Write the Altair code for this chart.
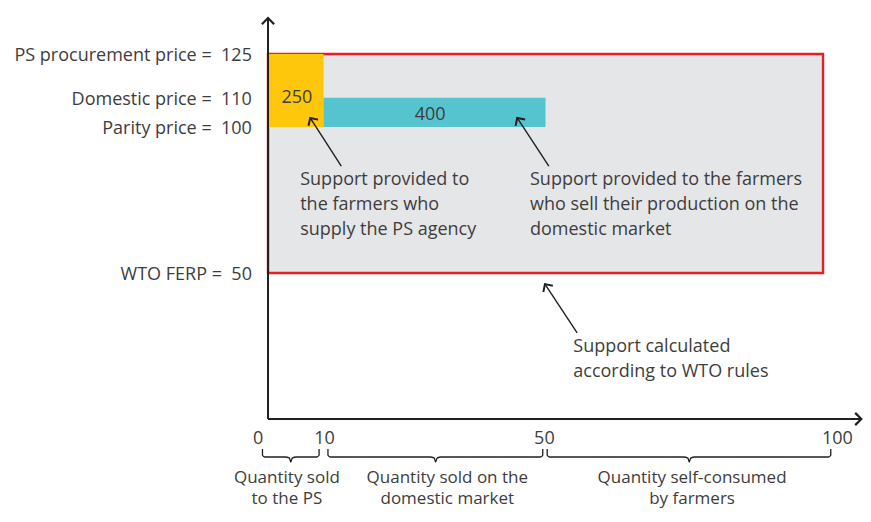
import altair as alt
import pandas as pd
import numpy as np

# ---------------- data ----------------
NB = "\u00a0"
# price levels (left-hand labels)
price_labels = ["PS procurement price =" + NB + NB + "125", "Domestic price =" + NB + NB + "110",
                "Parity price =" + NB + NB + "100", "WTO FERP =" + NB + NB + "50"]
price_values = [125, 110, 100, 50]

# support areas
wto_box = dict(x0=0, x1=100, y0=50, y1=125)
ps_box = dict(x0=0, x1=10, y0=100, y1=125, label="250")
dom_box = dict(x0=10, x1=50, y0=100, y1=110, label="400")

# quantity tick labels
tick_labels = ["0", "10", "50", "100"]
tick_pos = [-1.8, 10.2, 49.8, 102.6]

# braces under the x axis (quantity segments)
brace_start = [-1.0, 10.8, 50.3]
brace_end = [9.2, 49.5, 101.4]
brace_tip = [4.1, 30.2, 75.9]
brace_label_x = [3.4, 32.3, 76.4]
brace_text = [["Quantity sold", "to the PS"],
              ["Quantity sold on the", "domestic market"],
              ["Quantity self-consumed", "by farmers"]]

# annotations (text blocks)
note_text = [["Support provided to", "the farmers who", "supply the PS agency"],
             ["Support provided to the farmers", "who sell their production on the", "domestic market"],
             ["Support calculated", "according to WTO rules"]]
note_x = [5.8, 47.2, 55.0]
note_y = [81.8, 81.8, 24.7]

# annotation arrows (tail -> tip)
arrow_tail_x = [13.2, 50.6, 55.7]
arrow_tail_y = [86.6, 86.6, 29.5]
arrow_tip_x = [7.6, 44.9, 49.9]
arrow_tip_y = [103.1, 103.1, 46.2]

# axes extents
x_axis_end = 106.9
y_axis_end = 137.3

# ---------------- layout ----------------
W, H = 855, 502
PX_X, PX_Y = 5.55, 2.92
XMIN = -46.85
XMAX = XMIN + W / PX_X
YMAX = 140.75
YMIN = YMAX - H / PX_Y

FONT = "Open Sans"
FS = 18
TXT = "#3d3d3d"
LINE = "#231f20"

xs = alt.Scale(domain=[XMIN, XMAX], nice=False, zero=False)
ys = alt.Scale(domain=[YMIN, YMAX], nice=False, zero=False)


def X(f):
    return alt.X(f, type="quantitative", scale=xs, axis=None)


def Y(f):
    return alt.Y(f, type="quantitative", scale=ys, axis=None)


# rectangles
wto = alt.Chart(pd.DataFrame([wto_box])).mark_rect(fill="#e5e6e8", stroke="#ed1c24", strokeWidth=2.4).encode(
    x=X("x0"), x2="x1", y=Y("y0"), y2="y1")
ps = alt.Chart(pd.DataFrame([ps_box])).mark_rect(fill="#ffc70b").encode(
    x=X("x0"), x2="x1", y=Y("y0"), y2="y1")
dom = alt.Chart(pd.DataFrame([dom_box])).mark_rect(fill="#55c4cf").encode(
    x=X("x0"), x2="x1", y=Y("y0"), y2="y1")

box_lab_df = pd.DataFrame([
    dict(x=(ps_box["x0"] + ps_box["x1"]) / 2 + 0.2, y=109.8, t=ps_box["label"]),
    dict(x=(dom_box["x0"] + dom_box["x1"]) / 2 - 0.8, y=104.0, t=dom_box["label"]),
])
box_lab = alt.Chart(box_lab_df).mark_text(font=FONT, fontSize=FS, color=TXT, baseline="middle", align="center").encode(
    x=X("x"), y=Y("y"), text="t:N")

# axes
axes_df = pd.DataFrame([
    dict(x=0, y=0, x2=0, y2=y_axis_end),
    dict(x=0, y=0, x2=x_axis_end, y2=0),
])
axes = alt.Chart(axes_df).mark_rule(color=LINE, strokeWidth=2).encode(
    x=X("x"), y=Y("y"), x2="x2", y2="y2")

CHEVRON = "M-1,1L0,0L1,1"
axhead_df = pd.DataFrame([
    dict(x=0, y=y_axis_end, a=0),
    dict(x=x_axis_end, y=0, a=90),
])
axheads = alt.Chart(axhead_df).mark_point(shape=CHEVRON, filled=False, color=LINE, strokeWidth=2.2,
                                          size=150, opacity=1).encode(
    x=X("x"), y=Y("y"), angle=alt.Angle("a:Q", scale=None))

# annotation arrows
arr_df = pd.DataFrame(dict(tx=arrow_tail_x, ty=arrow_tail_y, hx=arrow_tip_x, hy=arrow_tip_y))
dxp = (arr_df.hx - arr_df.tx) * PX_X
dyp = (arr_df.hy - arr_df.ty) * PX_Y  # upward positive
arr_df["a"] = (np.degrees(np.arctan2(dxp, dyp)) + 360) % 360
arrows = alt.Chart(arr_df).mark_rule(color=LINE, strokeWidth=1.4).encode(
    x=X("tx"), y=Y("ty"), x2="hx", y2="hy")
arrheads = alt.Chart(arr_df).mark_point(shape=CHEVRON, filled=False, color=LINE, strokeWidth=2,
                                        size=130, opacity=1).encode(
    x=X("hx"), y=Y("hy"), angle=alt.Angle("a:Q", scale=None))

# price labels
price_df = pd.DataFrame(dict(t=price_labels, y=price_values, x=[-2.9] * len(price_values)))
prices = alt.Chart(price_df).mark_text(font=FONT, fontSize=FS, color=TXT, align="right", baseline="middle",
                                       dy=2.5).encode(
    x=X("x"), y=Y("y"), text="t:N")

# tick labels
tick_df = pd.DataFrame(dict(t=tick_labels, x=tick_pos, y=[-6.2] * len(tick_pos)))
ticks = alt.Chart(tick_df).mark_text(font=FONT, fontSize=FS, color=TXT, align="center", baseline="middle",
                                     dy=2).encode(
    x=X("x"), y=Y("y"), text="t:N")

# braces
B_TOP, B_BOT, B_TIP = -10.28, -13.02, -14.73
rows = []
for i, (a, b, m) in enumerate(zip(brace_start, brace_end, brace_tip)):
    d = 1.0
    pts = [(a, B_TOP), (a, B_BOT + 0.6), (a + 0.4, B_BOT), (a + d, B_BOT),
           (m - d, B_BOT), (m - 0.25, B_BOT - 0.4), (m, B_TIP), (m + 0.25, B_BOT - 0.4), (m + d, B_BOT),
           (b - d, B_BOT), (b - 0.4, B_BOT), (b, B_BOT + 0.6), (b, B_TOP)]
    for k, (px, py) in enumerate(pts):
        rows.append(dict(g=i, o=k, x=px, y=py))
brace_df = pd.DataFrame(rows)
braces = alt.Chart(brace_df).mark_line(color=LINE, strokeWidth=1.3, interpolate="monotone").encode(
    x=X("x"), y=Y("y"), detail="g:N", order="o:Q")

# brace labels (multi-line text blocks)
blab_df = pd.DataFrame(dict(x=brace_label_x, y=[-17.47] * 3, t=brace_text))
blab = alt.Chart(blab_df).mark_text(font=FONT, fontSize=17, color=TXT, align="center",
                                    baseline="top", lineHeight=21).encode(
    x=X("x"), y=Y("y"), text="t")

# notes
n_rows = []
for i, lines in enumerate(note_text):
    for k, ln in enumerate(lines):
        n_rows.append(dict(x=note_x[i], y=note_y[i] - k * 8.6, t=ln))
notes = alt.Chart(pd.DataFrame(n_rows)).mark_text(font=FONT, fontSize=FS, color=TXT, align="left",
                                                  baseline="middle").encode(
    x=X("x"), y=Y("y"), text="t:N")

chart = alt.layer(wto, ps, dom, box_lab, axes, axheads, arrows, arrheads, prices, ticks, braces, blab, notes).properties(
    width=W, height=H, padding=0, autosize=alt.AutoSizeParams(type="none")
).configure_view(stroke=None)

chart.save("out.html", embed_options={"renderer": "svg", "actions": False})
